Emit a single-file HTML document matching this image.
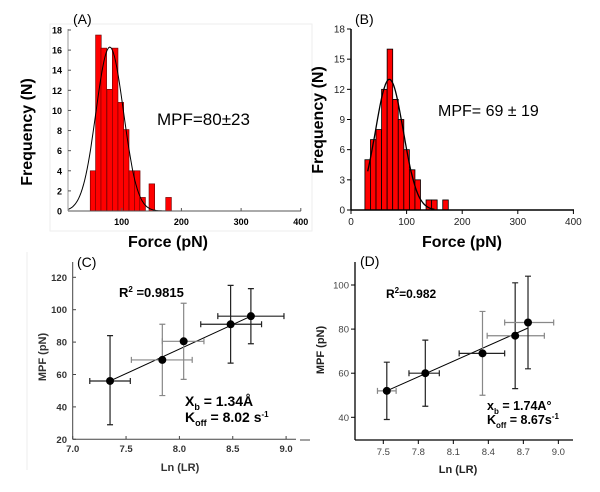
<!DOCTYPE html>
<html><head><meta charset="utf-8"><style>
body{margin:0;background:#fff;}
svg{display:block;font-family:"Liberation Sans",sans-serif;}
</style></head><body>
<svg id="fig" width="600" height="492" viewBox="0 0 600 492">
<rect x="50" y="24" width="262" height="207" fill="none" stroke="#eee"/>
<g id="pa"></g>
<g id="pb"></g>
<g id="pc"></g>
<g id="pd"></g>
<line x1="300" y1="440" x2="310" y2="440" stroke="#444"/>
</svg>
<script>
// Panel A data
const aCenters=[52,61,70,80,89,98.5,107.5,117,126,135,150.5,178.5];
const aCounts=[4,17.5,16.2,12.1,16.2,10.8,8.1,4,4,1.35,2.7,1.35];
const aYTicks=[0,2,4,6,8,10,12,14,16,18];
const aXTicks=[100,200,300,400];
// Panel B data
const bStarts=[25,35,45,55,65,75,85,95,105,115,135,145,165];
const bCounts=[5,7,8,12,16,11,9,6,4,3,1,1,1];
const bYTicks=[0,3,6,9,12,15,18];
const bXTicks=[0,100,200,300,400];
// Panel C data
const cX=[7.35,7.84,8.04,8.48,8.67];
const cY=[56,69,80.5,91,96];
const cXLo=[7.16,7.55,7.84,8.2,8.36];
const cXHi=[7.54,8.12,8.23,8.77,8.98];
const cYLo=[29,47,57,67,79];
const cYHi=[84,91,104,115,113];
const cGray=[0,1,1,0,0];
const cYTicks=[20,40,60,80,100,120];
const cXTicks=[7.0,7.5,8.0,8.5,9.0];
// Panel D data
const dX=[7.53,7.86,8.35,8.63,8.74];
const dY=[52,60,69,77,83];
const dXLo=[7.45,7.72,8.15,8.39,8.54];
const dXHi=[7.61,7.98,8.54,8.88,8.96];
const dYLo=[39,45,50,53,62];
const dYHi=[65,75,88,101,104];
const dXGray=[1,0,0,1,1];
const dYGray=[0,0,1,0,0];
const dYTicks=[40,60,80,100];
const dXTicks=[7.5,7.8,8.1,8.4,8.7,9.0];

const NS="http://www.w3.org/2000/svg";
function mk(p,tag,at,txt){const e=document.createElementNS(NS,tag);for(const k in at)e.setAttribute(k,at[k]);if(txt!==undefined)e.textContent=txt;p.appendChild(e);return e;}

// ---------- Panel A ----------
(function(){
const g=document.getElementById('pa');
const X=v=>62+v*0.597, Y=v=>211-v*(181/18);
aCenters.forEach((c,i)=>{
 const r=mk(g,'rect',{x:X(c-4.75),y:Y(aCounts[i]),width:9.5*0.597,height:Y(0)-Y(aCounts[i]),fill:'#f00',stroke:'#600','stroke-width':0.6});
 
 
});
let d='';for(let v=10;v<=200;v+=2){const y=16.3*Math.exp(-((v-80)**2)/(2*23*23));d+=(v==10?'M':'L')+X(v).toFixed(1)+','+Y(y).toFixed(1);}
const cu=mk(g,'path',{d:d,fill:'none',stroke:'#000','stroke-width':1});


mk(g,'line',{x1:68,y1:29,x2:68,y2:211,stroke:'#999'});
mk(g,'line',{x1:68,y1:211,x2:301,y2:211,stroke:'#555'});
aYTicks.forEach(t=>{mk(g,'line',{x1:68,y1:Y(t),x2:71,y2:Y(t),stroke:'#555'});
 const tl=mk(g,'text',{x:62,y:Y(t)+3.5,'font-size':9,'font-weight':'bold','text-anchor':'end'},t);
 
 });
aXTicks.forEach(t=>{mk(g,'line',{x1:X(t),y1:211,x2:X(t),y2:208,stroke:'#555'});
 const tl=mk(g,'text',{x:X(t),y:225,'font-size':9,'font-weight':'bold','text-anchor':'middle'},t);
 
 });
const t1=mk(g,'text',{x:168,y:247,'font-size':16,'font-weight':'bold','text-anchor':'middle'},'Force (pN)');

const t2=mk(g,'text',{x:0,y:0,'font-size':16,'font-weight':'bold','text-anchor':'middle',transform:'translate(32,132) rotate(-90)'},'Frequency (N)');

const t3=mk(g,'text',{x:73,y:24,'font-size':14},'(A)');

const t4=mk(g,'text',{x:157,y:125,'font-size':17},'MPF=80±23');

})();

// ---------- Panel B ----------
(function(){
const g=document.getElementById('pb');
const X=v=>351+v*0.556, Y=v=>210-v*(181/18);
bStarts.forEach((s,i)=>{
 const r=mk(g,'rect',{x:X(s),y:Y(bCounts[i]),width:10*0.556,height:Y(0)-Y(bCounts[i]),fill:'#f00',stroke:'#000','stroke-width':0.8});
 
 
});
let d='';for(let v=30;v<=150;v+=2){const y=13*Math.exp(-((v-69)**2)/(2*25*25));d+=(v==30?'M':'L')+X(v).toFixed(1)+','+Y(y).toFixed(1);}
const cu=mk(g,'path',{d:d,fill:'none',stroke:'#000','stroke-width':1.3});


mk(g,'line',{x1:351,y1:29,x2:351,y2:210,stroke:'#000','stroke-width':1.5});
mk(g,'line',{x1:351,y1:210,x2:574,y2:210,stroke:'#000','stroke-width':1.5});
bYTicks.forEach(t=>{mk(g,'line',{x1:347,y1:Y(t),x2:351,y2:Y(t),stroke:'#000'});
 const tl=mk(g,'text',{x:345,y:Y(t)+3.5,'font-size':10,'text-anchor':'end',fill:'#222'},t);
 
 });
bXTicks.forEach(t=>{mk(g,'line',{x1:X(t),y1:210,x2:X(t),y2:214,stroke:'#000'});
 const tl=mk(g,'text',{x:X(t),y:225,'font-size':10,'text-anchor':'middle',fill:'#222'},t);
 
 });
const t1=mk(g,'text',{x:462,y:247,'font-size':16,'font-weight':'bold','text-anchor':'middle'},'Force (pN)');

const t2=mk(g,'text',{x:0,y:0,'font-size':16,'font-weight':'bold','text-anchor':'middle',transform:'translate(323,120) rotate(-90)'},'Frequency (N)');

const t3=mk(g,'text',{x:355,y:24,'font-size':14},'(B)');

const t4=mk(g,'text',{x:438,y:116,'font-size':16},'MPF= 69 ± 19');

})();

function errPts(g,X,Y,xs,ys,xl,xh,yl,yh,xgray,ygray,pref){
 xs.forEach((x,i)=>{
  const cx=xgray[i]?'#888':'#222', cy=ygray[i]?'#888':'#222';
  const e1=mk(g,'path',{d:`M${X(xl[i])},${Y(ys[i])}H${X(xh[i])}M${X(xl[i])},${Y(ys[i])-3}v6M${X(xh[i])},${Y(ys[i])-3}v6`,stroke:cx,fill:'none','stroke-width':1.2});
  
  
  const e2=mk(g,'path',{d:`M${X(x)},${Y(yl[i])}V${Y(yh[i])}M${X(x)-3},${Y(yl[i])}h6M${X(x)-3},${Y(yh[i])}h6`,stroke:cy,fill:'none','stroke-width':1.2});
  
  
  const p=mk(g,'circle',{cx:X(x),cy:Y(ys[i]),r:4,fill:'#000'});
  
  
 });
}

// ---------- Panel C ----------
(function(){
const g=document.getElementById('pc');
const X=v=>72.7+(v-7)*106.7, Y=v=>439.3-(v-20)*1.62;
mk(g,'line',{x1:27,y1:252,x2:27,y2:470,stroke:'#eee'});
mk(g,'line',{x1:72.7,y1:262,x2:72.7,y2:439.3,stroke:'#444'});
mk(g,'line',{x1:72.7,y1:439.3,x2:296,y2:439.3,stroke:'#444'});
cYTicks.forEach(t=>{mk(g,'line',{x1:72.7,y1:Y(t),x2:76,y2:Y(t),stroke:'#444'});
 const tl=mk(g,'text',{x:67,y:Y(t)+3.5,'font-size':9.5,'font-weight':'bold','text-anchor':'end',fill:'#333'},t);
 
 });
cXTicks.forEach(t=>{mk(g,'line',{x1:X(t),y1:439.3,x2:X(t),y2:436,stroke:'#444'});
 const tl=mk(g,'text',{x:X(t),y:452,'font-size':9.5,'font-weight':'bold','text-anchor':'middle',fill:'#333'},t.toFixed(1));
 
 });
const fl=mk(g,'line',{x1:X(cX[0]),y1:Y(cY[0]),x2:X(cX[4]),y2:Y(cY[4]),stroke:'#000','stroke-width':1});

errPts(g,X,Y,cX,cY,cXLo,cXHi,cYLo,cYHi,cGray,cGray,'c-');
const a=mk(g,'text',{x:180,y:471,'font-size':11,'font-weight':'bold','text-anchor':'middle',fill:'#333'},'Ln (LR)');

const b=mk(g,'text',{x:0,y:0,'font-size':11,'font-weight':'bold','text-anchor':'middle',fill:'#333',transform:'translate(46,357) rotate(-90)'},'MPF (pN)');

const c=mk(g,'text',{x:77,y:267,'font-size':14},'(C)');

const r=mk(g,'text',{x:119,y:297,'font-size':13,'font-weight':'bold'});
r.innerHTML='R<tspan dy="-5" font-size="8">2</tspan><tspan dy="5"> =0.9815</tspan>';

const xb=mk(g,'text',{x:185,y:406,'font-size':14,'font-weight':'bold'});
xb.innerHTML='X<tspan dy="4" font-size="9">b</tspan><tspan dy="-4"> = 1.34Å</tspan>';

const k=mk(g,'text',{x:185,y:422,'font-size':14,'font-weight':'bold'});
k.innerHTML='K<tspan dy="4" font-size="9">off</tspan><tspan dy="-4"> = 8.02 s</tspan><tspan dy="-5" font-size="8">-1</tspan>';

})();

// ---------- Panel D ----------
(function(){
const g=document.getElementById('pd');
const X=v=>383.3+(v-7.5)*116.7, Y=v=>417.3-(v-40)*2.205;
mk(g,'line',{x1:355,y1:262,x2:355,y2:440,stroke:'#000','stroke-width':1.3});
mk(g,'line',{x1:355,y1:440,x2:573,y2:440,stroke:'#000','stroke-width':1.3});
dYTicks.forEach(t=>{mk(g,'line',{x1:351,y1:Y(t),x2:355,y2:Y(t),stroke:'#000'});
 const tl=mk(g,'text',{x:349,y:Y(t)+3.5,'font-size':9.5,'text-anchor':'end',fill:'#444'},t);
 
 });
dXTicks.forEach(t=>{mk(g,'line',{x1:X(t),y1:440,x2:X(t),y2:444,stroke:'#000'});
 const tl=mk(g,'text',{x:X(t),y:455,'font-size':9.5,'text-anchor':'middle',fill:'#444'},t.toFixed(1));
 
 });
const fl=mk(g,'line',{x1:X(dX[0]),y1:Y(dY[0]),x2:X(dX[4]),y2:Y(80.5),stroke:'#000','stroke-width':1});

errPts(g,X,Y,dX,dY,dXLo,dXHi,dYLo,dYHi,dXGray,dYGray,'d-');
const a=mk(g,'text',{x:458,y:473,'font-size':11,'font-weight':'bold','text-anchor':'middle',fill:'#222'},'Ln (LR)');

const b=mk(g,'text',{x:0,y:0,'font-size':11,'font-weight':'bold','text-anchor':'middle',fill:'#222',transform:'translate(324,350) rotate(-90)'},'MPF (pN)');

const c=mk(g,'text',{x:360,y:266,'font-size':14},'(D)');

const r=mk(g,'text',{x:386,y:298,'font-size':12,'font-weight':'bold'});
r.innerHTML='R<tspan dy="-5" font-size="8">2</tspan><tspan dy="5">=0.982</tspan>';

const xb=mk(g,'text',{x:487,y:410,'font-size':12.5,'font-weight':'bold'});
xb.innerHTML='x<tspan dy="4" font-size="8">b</tspan><tspan dy="-4"> = 1.74A°</tspan>';

const k=mk(g,'text',{x:487,y:424,'font-size':12.5,'font-weight':'bold'});
k.innerHTML='K<tspan dy="4" font-size="8">off</tspan><tspan dy="-4"> = 8.67s</tspan><tspan dy="-5" font-size="8">-1</tspan>';

})();
</script>
</body></html>
